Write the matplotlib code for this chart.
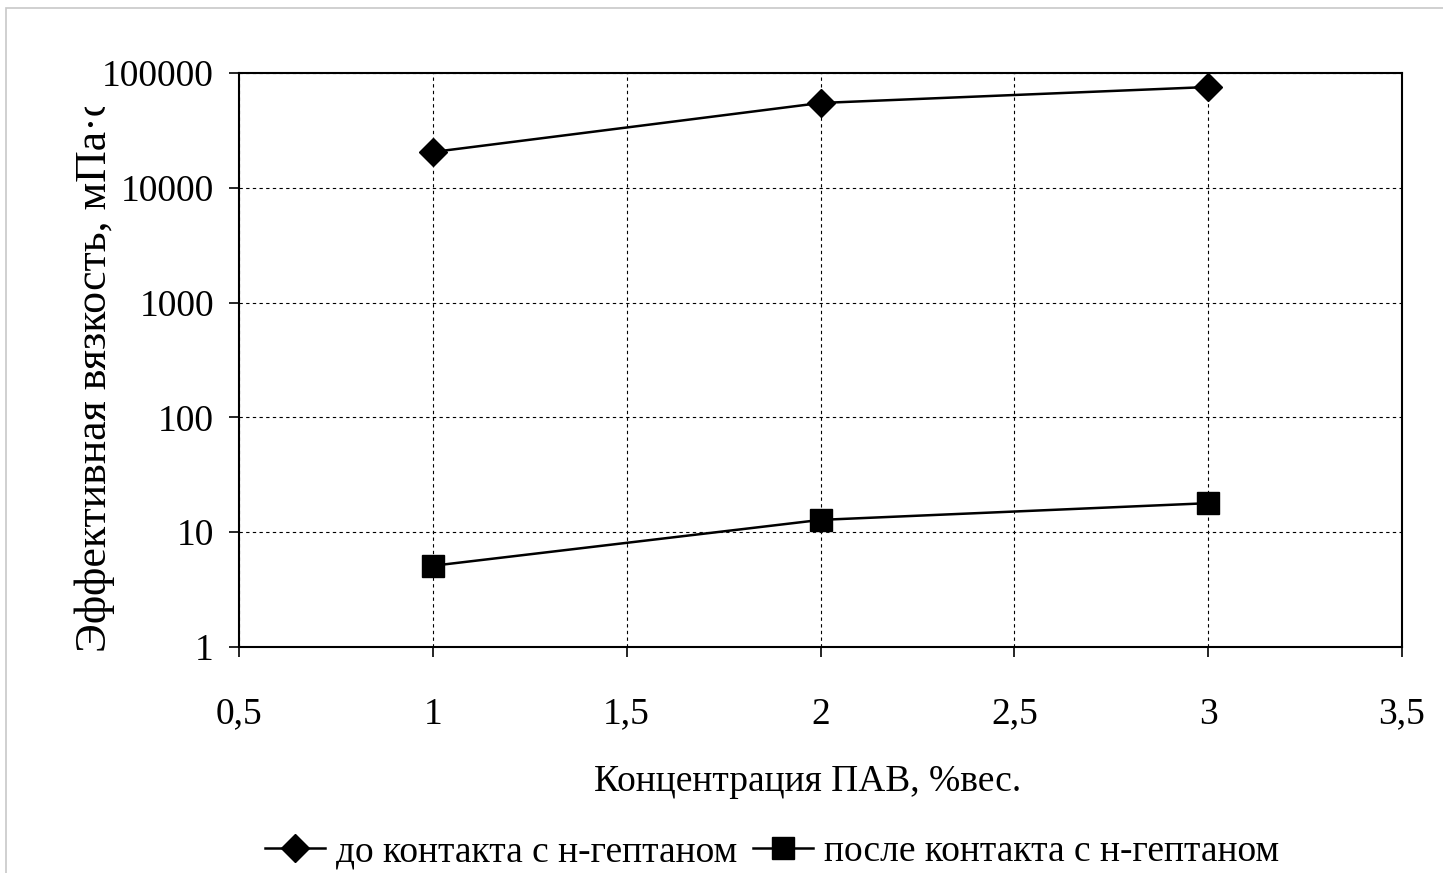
import matplotlib.pyplot as plt
from matplotlib.patches import Rectangle
from matplotlib.transforms import Bbox

# data
conc = [1, 2, 3]
before = [20500, 54800, 75500]   # до контакта с н-гептаном
after = [5.1, 12.8, 17.9]        # после контакта с н-гептаном

xticks = [0.5, 1, 1.5, 2, 2.5, 3, 3.5]
xticklabels = ["0,5", "1", "1,5", "2", "2,5", "3", "3,5"]
yticks = [1, 10, 100, 1000, 10000, 100000]
yticklabels = ["1", "10", "100", "1000", "10000", "100000"]

plt.rcParams['font.family'] = ['Liberation Serif', 'DejaVu Serif']

W, H = 1443, 873
fig = plt.figure(figsize=(W / 100, H / 100), dpi=100)
ax = fig.add_axes([239 / W, 1 - 647 / H, (1402 - 239) / W, (647 - 73) / H])

ax.plot(conc, before, color='black', lw=1.8, marker='D', markersize=14,
        label='до контакта с н-гептаном')
ax.plot(conc, after, color='black', lw=1.8, marker='s', markersize=16,
        label='после контакта с н-гептаном')

ax.set_yscale('log')
ax.set_xlim(0.5, 3.5)
ax.set_ylim(1, 100000)
ax.set_xticks(xticks)
ax.set_xticklabels(xticklabels)
ax.set_yticks(yticks)
ax.set_yticklabels(yticklabels)
ax.minorticks_off()
ax.tick_params(axis='both', direction='out', length=7, width=1.2,
               labelsize=27, colors='black')
ax.tick_params(axis='x', pad=29)
ax.tick_params(axis='y', pad=11)

ax.grid(True, color='black', linestyle=(0, (3, 3)), linewidth=0.8)
for s in ax.spines.values():
    s.set_linewidth(1.5)

fig.text(808 / W, 1 - 782 / H, 'Концентрация ПАВ, %вес.', ha='center',
         va='center', fontsize=27)

# y label is cut off at the top in the original
yl = fig.text(95 / W, 1 - 652 / H, 'Эффективная вязкость, мПа·с', rotation=90,
              ha='center', va='bottom', fontsize=31.5)
yl.set_clip_on(True)
yl.set_clip_box(Bbox.from_extents(0, 0, W, H - 107))

fig.legend(loc='center', bbox_to_anchor=(772 / W, 1 - 852 / H), ncol=2,
           frameon=False, fontsize=27, handlelength=1.6, handletextpad=0.3,
           columnspacing=0.4)

# slide border
fig.patches.append(Rectangle((6 / W, -0.01), 1.1, 1 - 8 / H + 0.01,
                             transform=fig.transFigure, fill=False,
                             edgecolor='#c8c8c8', linewidth=1.2))

fig.savefig('out.png', dpi=100)
